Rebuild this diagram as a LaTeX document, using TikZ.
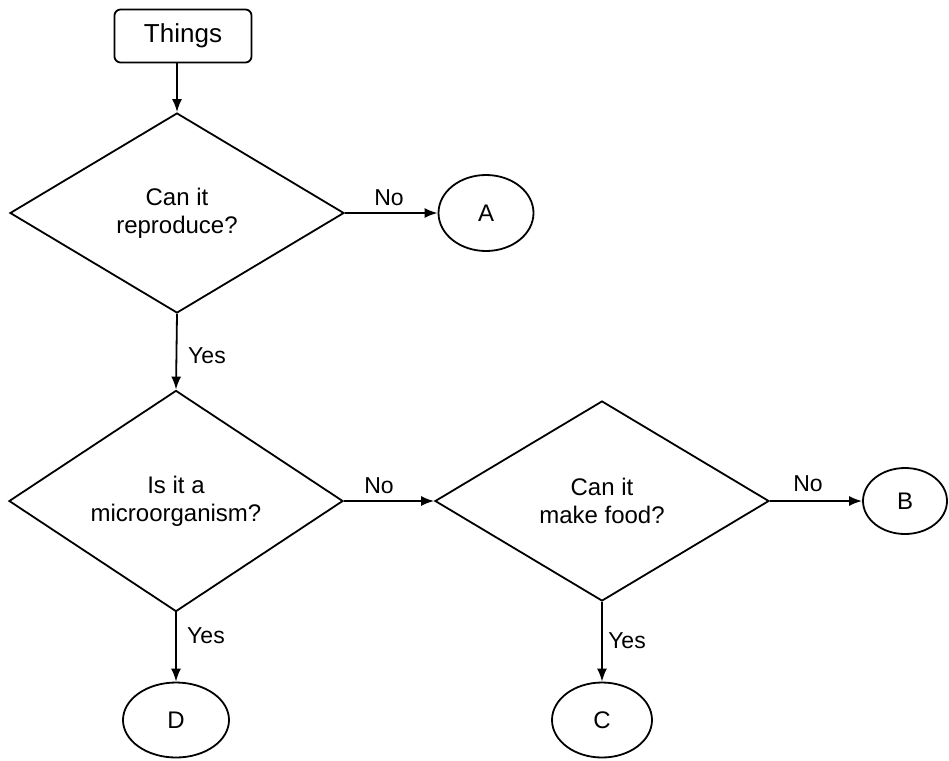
\documentclass[tikz,border=0pt]{standalone}
\usepackage{fontspec}
\setmainfont{Liberation Sans}
\usetikzlibrary{shapes.geometric}
\usetikzlibrary{arrows.meta}
\begin{document}
\begin{tikzpicture}[x=1pt,y=-1pt,line width=1.8pt,
    >={Latex[length=13pt,width=10pt]},
    test/.style={diamond,draw,minimum width=334pt,minimum height=200pt,inner sep=0pt,
        align=center,font=\fontsize{24}{28}\selectfont},
    leaf/.style={ellipse,draw,inner sep=0pt,font=\fontsize{24}{28}\selectfont},
    answer/.style={font=\fontsize{23}{28}\selectfont}]
                \useasboundingbox (0,0) rectangle (949,760);
                \node[draw,rounded corners=6pt,minimum width=137pt,minimum height=53pt,
                    font=\fontsize{26}{30}\selectfont] (things) at(183,36){Things};
                \node[test] (repro) at(177,213){Can it\\reproduce?};
                \node[test] (micro) at(176,501){Is it a\\microorganism?};
                \node[test] (food) at(602,501){Can it\\make food?};

                \node[leaf,minimum width=95pt,minimum height=76pt] (a) at(486,213){A};
                \node[leaf,minimum width=84pt,minimum height=66pt] (b) at(905,501){B};
                \node[leaf,minimum width=100pt,minimum height=75pt] (c) at(602,720){C};
                \node[leaf,minimum width=106pt,minimum height=75pt] (d) at(176,720){D};

                \draw[->] (things.south -| repro.north)--(repro.north);
                \draw[->] (repro.east)--(a.west);
                \draw[->] (repro.south)--(micro.north);
                \draw[->] (micro.east)--(food.west);
                \draw[->] (food.east)--(b.west);
                \draw[->] (micro.south)--(d.north);
                \draw[->] (food.south)--(c.north);

                \node[answer] (no1) at(389,198){No};
                \node[answer] (no2) at(379,486){No};
                \node[answer] (no3) at(808,484){No};
                \node[answer] (yes1) at(207,356){Yes};
                \node[answer] (yes2) at(206,636){Yes};
                \node[answer] (yes3) at(627,641){Yes};
            \end{tikzpicture}
\end{document}
